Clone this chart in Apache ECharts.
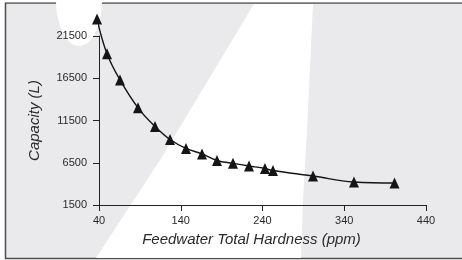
<!DOCTYPE html>
<html>
<head>
<meta charset="utf-8">
<script src="https://cdn.jsdelivr.net/npm/echarts@6/dist/echarts.min.js"></script>
<style>
html, body { margin:0; padding:0; background:#fff; }
#chart { width:462px; height:260px; }
</style>
</head>
<body>
<div id="chart"></div>
<script>
// feedwater hardness (ppm) vs softener capacity (L)
var hardness = [37.6, 49.8, 65.7, 87.7, 108.5, 126.9, 146.4, 166, 184.3, 203.9, 223.5, 243, 252.8, 301.8, 351.9, 401.5];
var capacity = [23500, 19400, 16300, 13000, 10800, 9250, 8200, 7550, 6770, 6430, 6120, 5820, 5580, 4930, 4220, 4100];
var xTicks = [40, 140, 240, 340, 440];
var yTicks = [1500, 6500, 11500, 16500, 21500];

var points = [];
for (var i = 0; i < hardness.length; i++) {
    points.push([hardness[i], capacity[i]]);
}

var chart = echarts.init(document.getElementById('chart'));
var font = '"Liberation Sans", Arial, Helvetica, sans-serif';

var option = {
    animation: false,
    backgroundColor: '#fff',
    graphic: [
        {
            type: 'rect', z: -10, silent: true,
            shape: { x: 5.5, y: 3, width: 460, height: 255.5 },
            style: { fill: '#eaeaec', stroke: '#4d4d4d', lineWidth: 1.5 }
        },
        {
            type: 'polygon', z: -9, silent: true,
            shape: { points: [[96, 258], [160, 160], [254, 4], [313, 4], [307, 130], [303, 200], [301, 258]] },
            style: { fill: '#fff' }
        },
        {
            type: 'ellipse', z: -9, silent: true,
            shape: { cx: 79, cy: 0, rx: 23, ry: 46 },
            style: { fill: '#fff' }
        },
        {
            type: 'rect', z: -8, silent: true,
            shape: { x: 0, y: 0, width: 462, height: 2.3 },
            style: { fill: '#fff' }
        }
    ],
    grid: { left: 99, right: 36, top: 36, bottom: 55 },
    xAxis: {
        type: 'value',
        min: xTicks[0],
        max: xTicks[xTicks.length - 1],
        interval: 100,
        name: 'Feedwater Total Hardness (ppm)',
        nameLocation: 'middle',
        nameGap: 27,
        nameTextStyle: { fontFamily: font, fontSize: 15, fontStyle: 'italic', color: '#2a2a2a', padding: [0, 22, 0, 0] },
        axisLine: { lineStyle: { color: '#222', width: 1 } },
        axisTick: { inside: false, length: 6, lineStyle: { color: '#222' } },
        axisLabel: { margin: 10, fontFamily: font, fontSize: 11, color: '#2a2a2a', formatter: function (v) { return String(v); } },
        splitLine: { show: false }
    },
    yAxis: {
        type: 'value',
        min: yTicks[0],
        max: yTicks[yTicks.length - 1],
        interval: 5000,
        name: 'Capacity (L)',
        nameLocation: 'middle',
        nameGap: 57,
        nameTextStyle: { fontFamily: font, fontSize: 15, fontStyle: 'italic', color: '#2a2a2a' },
        axisLine: { show: true, lineStyle: { color: '#222', width: 1 } },
        axisTick: { show: true, inside: false, length: 6, lineStyle: { color: '#222' } },
        axisLabel: { margin: 12, fontFamily: font, fontSize: 11, color: '#2a2a2a', formatter: function (v) { return String(v); } },
        splitLine: { show: false }
    },
    series: [{
        type: 'line',
        data: points,
        smooth: 0.4,
        clip: false,
        symbol: 'triangle',
        symbolSize: [10, 11],
        showAllSymbol: true,
        lineStyle: { color: '#151515', width: 1.4 },
        itemStyle: { color: '#151515' }
    }]
};

chart.setOption(option);
</script>
</body>
</html>
